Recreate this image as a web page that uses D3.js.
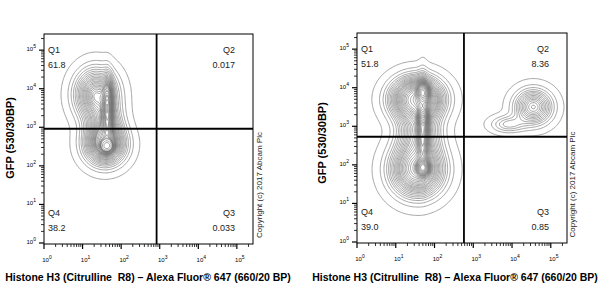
<!DOCTYPE html>
<html><head><meta charset="utf-8">
<script src="https://cdn.jsdelivr.net/npm/d3@7"></script>
<style>body{margin:0;background:#fff}svg{display:block}text{font-family:Arial,"Liberation Sans",sans-serif;white-space:pre}</style>
</head><body><svg id="c" width="600" height="300"></svg>
<script>
// ---- data ----
const axisMax = 262144;
const tickExponents = [0, 1, 2, 3, 4, 5];
const quadNames = ["Q1", "Q2", "Q3", "Q4"];
const leftQuadValues = ["61.8", "0.017", "0.033", "38.2"];
const rightQuadValues = ["51.8", "8.36", "0.85", "39.0"];
const leftGate = [830, 915];     // [x gate, y gate] in fluorescence units
const rightGate = [575, 535];
// population components (log10 x centre, log10 y centre, log sd x, log sd y, fraction of cells)
const leftPopulations = [
  [1.63, 2.52, 0.08, 0.08, 0.05],
  [1.58, 2.55, 0.32, 0.32, 0.32],
  [1.55, 3.10, 0.28, 0.35, 0.15],
  [1.65, 3.50, 0.08, 0.45, 0.10],
  [1.35, 3.85, 0.33, 0.40, 0.35]
];
const rightPopulations = [
  [1.70, 1.93, 0.08, 0.10, 0.04],
  [1.55, 1.88, 0.41, 0.42, 0.30],
  [1.70, 3.88, 0.08, 0.12, 0.04],
  [1.70, 3.25, 0.06, 0.10, 0.02],
  [1.55, 3.70, 0.40, 0.34, 0.30],
  [1.60, 2.80, 0.33, 0.40, 0.12],
  [1.70, 3.00, 0.08, 0.60, 0.08],
  [4.55, 3.50, 0.30, 0.28, 0.085],
  [3.90, 3.05, 0.28, 0.14, 0.015]
];
const contourFractions = d3.range(0.03, 0.995, 0.03); // equal-probability contour levels
const xTitle = "Histone H3 (Citrulline  R8) \u2013 Alexa Fluor\u00AE 647 (660/20 BP)";
const yTitle = "GFP (530/30BP)";
const copyright = "Copyright (c) 2017 Abcam Plc";

const svg = d3.select("#c");
const panels = [
  {x0: 44, x1: 253, y0: 243, y1: 34, quad: leftQuadValues, gate: leftGate, pops: leftPopulations, titleX: 148, titleY: 281, yTitleX: 14, yTitleY: 138, copyX: 262},
  {x0: 357, x1: 567, y0: 242, y1: 33, quad: rightQuadValues, gate: rightGate, pops: rightPopulations, titleX: 455, titleY: 281, yTitleX: 326, yTitleY: 143, copyX: 575}
];

panels.forEach(p => {
  const g = svg.append("g");
  const x = d3.scaleLog().domain([1, axisMax]).range([p.x0, p.x1]);
  const y = d3.scaleLog().domain([1, axisMax]).range([p.y0, p.y1]);
  const L = Math.log10(axisMax);
  const n = 180;
  const step = L / (n - 1);
  const vals = new Float64Array(n * n);
  for (let j = 0; j < n; j++) for (let i = 0; i < n; i++) {
    const lx = i * step, ly = j * step;
    let s = 0;
    p.pops.forEach(([cx, cy, sx, sy, w]) => {
      s += w / (sx * sy) * Math.exp(-0.5 * (((lx - cx) / sx) ** 2 + ((ly - cy) / sy) ** 2));
    });
    vals[j * n + i] = s;
  }
  const sorted = Array.from(vals).sort((a, b) => b - a);
  const total = d3.sum(sorted);
  const thr = [];
  let cum = 0, k = 0;
  const targets = contourFractions.slice();
  for (let i = 0; i < sorted.length && k < targets.length; i++) {
    cum += sorted[i];
    while (k < targets.length && cum >= targets[k] * total) { thr.push(sorted[i]); k++; }
  }
  thr.sort((a, b) => a - b);
  const contours = d3.contours().size([n, n]).thresholds(thr)(vals);
  const proj = d3.geoTransform({point: function(gx, gy) {
    this.stream.point(x(Math.pow(10, (gx - 0.5) * step)), y(Math.pow(10, (gy - 0.5) * step)));
  }});
  const path = d3.geoPath(proj);
  g.append("g").selectAll("path").data(contours).join("path")
    .attr("d", path).attr("fill", "none")
    .attr("stroke", "#767676").attr("stroke-width", 0.65);

  // frame
  g.append("rect").attr("x", p.x0).attr("y", p.y1).attr("width", p.x1 - p.x0).attr("height", p.y0 - p.y1 + 1)
    .attr("fill", "none").attr("stroke", "#000").attr("stroke-width", 1);
  // gates
  g.append("line").attr("x1", x(p.gate[0])).attr("x2", x(p.gate[0])).attr("y1", p.y1).attr("y2", p.y0 + 1)
    .attr("stroke", "#000").attr("stroke-width", 1.8);
  g.append("line").attr("x1", p.x0).attr("x2", p.x1).attr("y1", y(p.gate[1])).attr("y2", y(p.gate[1]))
    .attr("stroke", "#000").attr("stroke-width", 1.8);

  // ticks
  const minor = [];
  for (let e = 0; e <= 5; e++) for (let m = 2; m <= 9; m++) { const v = m * Math.pow(10, e); if (v <= axisMax) minor.push(v); }
  const xa = g.append("g").attr("transform", `translate(0,${p.y0 + 1})`);
  xa.selectAll(".mj").data(tickExponents).join("line").attr("x1", e => x(Math.pow(10, e))).attr("x2", e => x(Math.pow(10, e)))
    .attr("y1", 0).attr("y2", 5).attr("stroke", "#000").attr("stroke-width", 1.2);
  xa.selectAll(".mn").data(minor).join("line").attr("x1", v => x(v)).attr("x2", v => x(v))
    .attr("y1", 0).attr("y2", 3).attr("stroke", "#000").attr("stroke-width", 0.8);
  const ya = g.append("g").attr("transform", `translate(${p.x0},0)`);
  ya.selectAll(".mj").data(tickExponents).join("line").attr("y1", e => y(Math.pow(10, e))).attr("y2", e => y(Math.pow(10, e)))
    .attr("x1", 0).attr("x2", -5).attr("stroke", "#000").attr("stroke-width", 1.2);
  ya.selectAll(".mn").data(minor).join("line").attr("y1", v => y(v)).attr("y2", v => y(v))
    .attr("x1", 0).attr("x2", -3).attr("stroke", "#000").attr("stroke-width", 0.8);

  // tick labels
  tickExponents.forEach(e => {
    const t = g.append("text").attr("x", x(Math.pow(10, e)) + 3).attr("y", p.y0 + 19).attr("text-anchor", "middle")
      .attr("font-size", 6).attr("fill", "#000");
    t.append("tspan").text("10");
    t.append("tspan").attr("dy", -3).attr("font-size", 5).text(e);
    const t2 = g.append("text").attr("x", p.x0 - 8).attr("y", y(Math.pow(10, e)) + 1).attr("text-anchor", "end")
      .attr("font-size", 6).attr("fill", "#000");
    t2.append("tspan").text("10");
    t2.append("tspan").attr("dy", -3).attr("font-size", 5).text(e);
  });

  // quadrant labels
  const qpos = [
    [p.x0 + 4, p.y1 + 19, "start"], [p.x1 - 18, p.y1 + 19, "end"],
    [p.x1 - 18, p.y0 - 27, "end"], [p.x0 + 4, p.y0 - 27, "start"]
  ];
  quadNames.forEach((q, k) => {
    const [qx, qy, anc] = qpos[k];
    g.append("text").attr("x", qx).attr("y", qy).attr("font-size", 9).attr("fill", "#222")
      .attr("text-anchor", anc).text(q);
    g.append("text").attr("x", qx).attr("y", qy + 15).attr("font-size", 9).attr("fill", "#222")
      .attr("text-anchor", anc).text(p.quad[k]);
  });

  // titles
  g.append("text").attr("x", p.titleX).attr("y", p.titleY).attr("text-anchor", "middle")
    .attr("font-size", 10.5).attr("font-weight", "bold").text(xTitle);
  g.append("text").attr("transform", `translate(${p.yTitleX},${p.yTitleY}) rotate(-90)`).attr("text-anchor", "middle")
    .attr("font-size", 11).attr("font-weight", "bold").text(yTitle);
  g.append("text").attr("transform", `translate(${p.copyX},${(p.y0 + 127) / 2}) rotate(-90)`).attr("text-anchor", "middle")
    .attr("font-size", 8).attr("fill", "#222").text(copyright);
});
</script></body></html>
